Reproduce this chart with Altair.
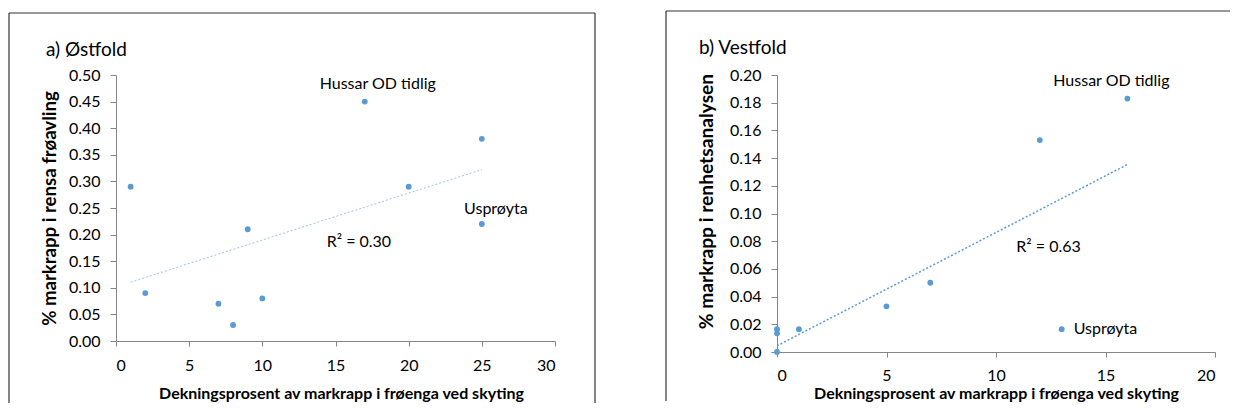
import altair as alt
import pandas as pd

# ---------------- data ----------------
# Panel a) Østfold
a_cover = [1, 2, 7, 8, 9, 10, 17, 20, 25, 25]
a_share = [0.29, 0.09, 0.07, 0.03, 0.21, 0.08, 0.45, 0.29, 0.38, 0.22]
a_x_ticks = [0, 5, 10, 15, 20, 25, 30]
a_y_ticks = [0.0, 0.05, 0.10, 0.15, 0.20, 0.25, 0.30, 0.35, 0.40, 0.45, 0.50]

# Panel b) Vestfold
b_cover = [0, 0, 0, 1, 5, 7, 12, 13, 16]
b_share = [0.0, 0.0135, 0.0165, 0.0165, 0.033, 0.05, 0.153, 0.0165, 0.183]
b_x_ticks = [0, 5, 10, 15, 20]
b_y_ticks = [0.0, 0.02, 0.04, 0.06, 0.08, 0.10, 0.12, 0.14, 0.16, 0.18, 0.20]

panel_titles = ["a) Østfold", "b) Vestfold"]
y_titles = ["% markrapp i rensa frøavling", "% markrapp i renhetsanalysen"]
x_title = "Dekningsprosent av markrapp i frøenga ved skyting"
r2_labels = ["R² = 0.30", "R² = 0.63"]
r2_x = [16.6, 12.4]
r2_y = [0.186, 0.0758]
hussar = "Hussar OD tidlig"
usproyta = "Usprøyta"
a_hussar_idx, a_usp_idx = 6, 9
b_hussar_idx, b_usp_idx = 8, 7

FONT = "Lato"
BLUE = "#5B9BD5"
FRAME = "#333333"


def one(values):
    return alt.Data(values=[values])


def frame_rules(left, top, right, bottom, right_side):
    blank = one({"k": 1})
    layers = [
        alt.Chart(blank).mark_rule(color=FRAME, strokeWidth=1.2).encode(
            x=alt.value(left), y=alt.value(top), y2=alt.value(bottom)),
        alt.Chart(blank).mark_rule(color=FRAME, strokeWidth=1.2).encode(
            x=alt.value(left), x2=alt.value(right), y=alt.value(top)),
    ]
    if right_side:
        layers.append(alt.Chart(blank).mark_rule(color=FRAME, strokeWidth=1.2).encode(
            x=alt.value(right), y=alt.value(top), y2=alt.value(bottom)))
    return layers


def panel(xs, ys, xticks, yticks, W, H, ytitle, ytitle_size, title, title_pos,
          ytitle_pos, xtitle_pos, xlabel_pad, r2, r2x, r2y, anns, frame,
          trend_color, trend_width):
    df = pd.DataFrame({"x": xs, "y": ys})
    x_enc = alt.X("x:Q",
                  scale=alt.Scale(domain=[xticks[0], xticks[-1]], nice=False, zero=False),
                  axis=alt.Axis(values=xticks, format="d", title=x_title,
                                titleX=xtitle_pos[0], titleY=xtitle_pos[1],
                                titleBaseline="middle", tickSize=5,
                                labelPadding=xlabel_pad))
    y_enc = alt.Y("y:Q",
                  scale=alt.Scale(domain=[yticks[0], yticks[-1]], nice=False, zero=False),
                  axis=alt.Axis(values=yticks, format=".2f", title=ytitle,
                                titleX=ytitle_pos[0], titleY=ytitle_pos[1],
                                titleBaseline="middle", titleAngle=270,
                                titleFontSize=ytitle_size, tickSize=6, labelPadding=10))

    base = alt.Chart(df)
    trend = base.transform_regression("x", "y").mark_line(
        color=trend_color, strokeWidth=trend_width, strokeDash=[2, 2]
    ).encode(x=x_enc, y=y_enc)
    pts = base.mark_circle(size=34, color=BLUE, opacity=1).encode(x=x_enc, y=y_enc)

    layers = [trend, pts]
    for (idx, text, dx, dy, align) in anns:
        adf = pd.DataFrame({"x": [xs[idx]], "y": [ys[idx]], "t": [text]})
        layers.append(alt.Chart(adf).mark_text(
            dx=dx, dy=dy, align=align, baseline="middle", font=FONT,
            fontSize=16, color="#000000").encode(x=x_enc, y=y_enc, text="t:N"))
    rdf = pd.DataFrame({"x": [r2x], "y": [r2y], "t": [r2]})
    layers.append(alt.Chart(rdf).mark_text(
        align="center", baseline="middle", font=FONT, fontSize=16,
        color="#000000").encode(x=x_enc, y=y_enc, text="t:N"))
    layers.append(alt.Chart(one({"t": title})).mark_text(
        align="left", baseline="middle", font=FONT, fontSize=19,
        color="#000000").encode(x=alt.value(title_pos[0]), y=alt.value(title_pos[1]),
                                text="t:N"))
    layers += frame_rules(*frame)
    return alt.layer(*layers).properties(width=W, height=H)


left = panel(a_cover, a_share, a_x_ticks, a_y_ticks, 439, 266,
             y_titles[0], 18.6, panel_titles[0], (-70, -25),
             (-67, 133), (225, 52), 11, r2_labels[0], r2_x[0], r2_y[0],
             [(a_hussar_idx, hussar, 13, -18, "center"),
              (a_usp_idx, usproyta, 14, -15, "center")],
             (-107, -62, 479, 328, True), "#9DC3E6", 1)

right = panel(b_cover, b_share, b_x_ticks, b_y_ticks, 438, 277,
              y_titles[1], 19.2, panel_titles[1], (-78, -27),
              (-71, 126), (219, 41), 10, r2_labels[1], r2_x[1], r2_y[1],
              [(b_hussar_idx, hussar, -16, -18, "center"),
               (b_usp_idx, usproyta, 12, 0, "left")],
              (-111, -64, 453, 326, False), BLUE, 1.5)

chart = alt.hconcat(left, right, spacing=69).properties(
    padding={"left": 0, "top": 2, "right": 0, "bottom": 0}
).configure_view(stroke=None).configure_axis(
    grid=False, domainColor="#868686", tickColor="#868686", domainWidth=1,
    labelFont=FONT, labelFontSize=16, labelColor="#000000",
    titleFont=FONT, titleFontSize=16, titleFontWeight="bold", titleColor="#000000"
)

chart.save("out.html", embed_options={"renderer": "svg", "actions": False})
